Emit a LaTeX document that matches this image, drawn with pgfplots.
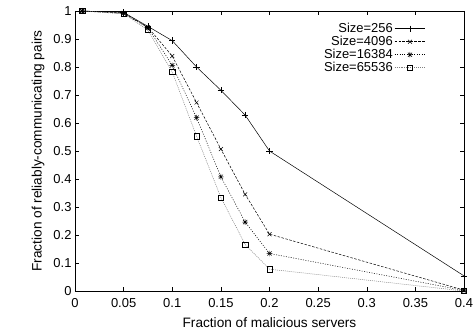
\documentclass[border=0pt]{standalone}
\usepackage{pgfplots}
\pgfplotsset{compat=1.18}
\usepackage{fontspec}
\setmainfont{Liberation Sans}
\pgfdeclareplotmark{gpstar}{%
  \pgfpathmoveto{\pgfqpoint{-\pgfplotmarksize}{0pt}}\pgfpathlineto{\pgfqpoint{\pgfplotmarksize}{0pt}}%
  \pgfpathmoveto{\pgfqpoint{0pt}{-\pgfplotmarksize}}\pgfpathlineto{\pgfqpoint{0pt}{\pgfplotmarksize}}%
  \pgfpathmoveto{\pgfqpoint{-.75\pgfplotmarksize}{-.75\pgfplotmarksize}}\pgfpathlineto{\pgfqpoint{.75\pgfplotmarksize}{.75\pgfplotmarksize}}%
  \pgfpathmoveto{\pgfqpoint{-.75\pgfplotmarksize}{.75\pgfplotmarksize}}\pgfpathlineto{\pgfqpoint{.75\pgfplotmarksize}{-.75\pgfplotmarksize}}%
  \pgfusepathqstroke}
\begin{document}
\begin{tikzpicture}
\path[use as bounding box] (-75bp,-45bp) rectangle (399bp,291bp);
\begin{axis}[
  at={(0,0)}, anchor=south west,
  scale only axis, width=389bp, height=280bp,
  xmin=0, xmax=0.4, ymin=0, ymax=1,
  xtick={0,0.05,...,0.4}, ytick={0,0.1,...,1},
  xticklabels={0,0.05,0.1,0.15,0.2,0.25,0.3,0.35,0.4},
  yticklabels={0,0.1,0.2,0.3,0.4,0.5,0.6,0.7,0.8,0.9,1},
  tick align=inside, major tick length=4bp,
  tick style={black, line width=0.5pt},
  axis line style={line width=0.8pt},
  tick label style={font=\fontsize{13}{15}\selectfont},
  xticklabel style={yshift=-4bp},
  label style={font=\fontsize{13.7}{15}\selectfont},
  xlabel={Fraction of malicious servers},
  ylabel={Fraction of reliably-communicating pairs},
  xlabel style={at={(axis description cs:0.5,-0.114)}, anchor=center},
  ylabel style={at={(axis description cs:-0.095,0.5)}, anchor=center},
  /pgf/number format/assume math mode=true,
  legend style={draw=none, fill=none, at={(0.902,0.957)}, anchor=north east,
    font=\fontsize{13}{15}\selectfont, row sep=2bp, inner sep=0pt,
    nodes={inner sep=1.5pt, text height=8bp, text depth=0bp}},
  legend plot pos=right, legend cell align=right,
  legend image code/.code={\draw[mark repeat=2,mark phase=2] plot coordinates {(0cm,0cm) (0.545cm,0cm) (1.09cm,0cm)};},
]
\addplot[black, line width=0.5pt, mark=+, mark size=3.2pt, mark options={solid}] coordinates {
(0.0075,1) (0.05,0.995) (0.075,0.945) (0.1,0.894) (0.125,0.80) (0.15,0.717) (0.175,0.628) (0.2,0.50) (0.4,0.054)};
\addlegendentry{Size=256}
\addplot[black, line width=0.5pt, dash pattern=on 2.5pt off 1.5pt, mark=x, mark size=2.8pt, mark options={solid}] coordinates {
(0.0075,1) (0.05,0.993) (0.075,0.942) (0.1,0.839) (0.125,0.673) (0.15,0.507) (0.175,0.345) (0.2,0.203) (0.4,0.003)};
\addlegendentry{Size=4096}
\addplot[black, line width=0.5pt, dash pattern=on 1pt off 1.5pt, mark=gpstar, mark size=2.8pt, mark options={solid}] coordinates {
(0.0075,1) (0.05,0.991) (0.075,0.94) (0.1,0.806) (0.125,0.619) (0.15,0.408) (0.175,0.246) (0.2,0.134) (0.4,0.002)};
\addlegendentry{Size=16384}
\addplot[gray, line width=0.5pt, dash pattern=on 1pt off 1pt, mark=square, mark size=2.6pt, mark options={solid,black}] coordinates {
(0.0075,1) (0.05,0.99) (0.075,0.932) (0.1,0.782) (0.125,0.553) (0.15,0.334) (0.175,0.166) (0.2,0.078) (0.4,0.0)};
\addlegendentry{Size=65536}
\end{axis}
\end{tikzpicture}
\end{document}
